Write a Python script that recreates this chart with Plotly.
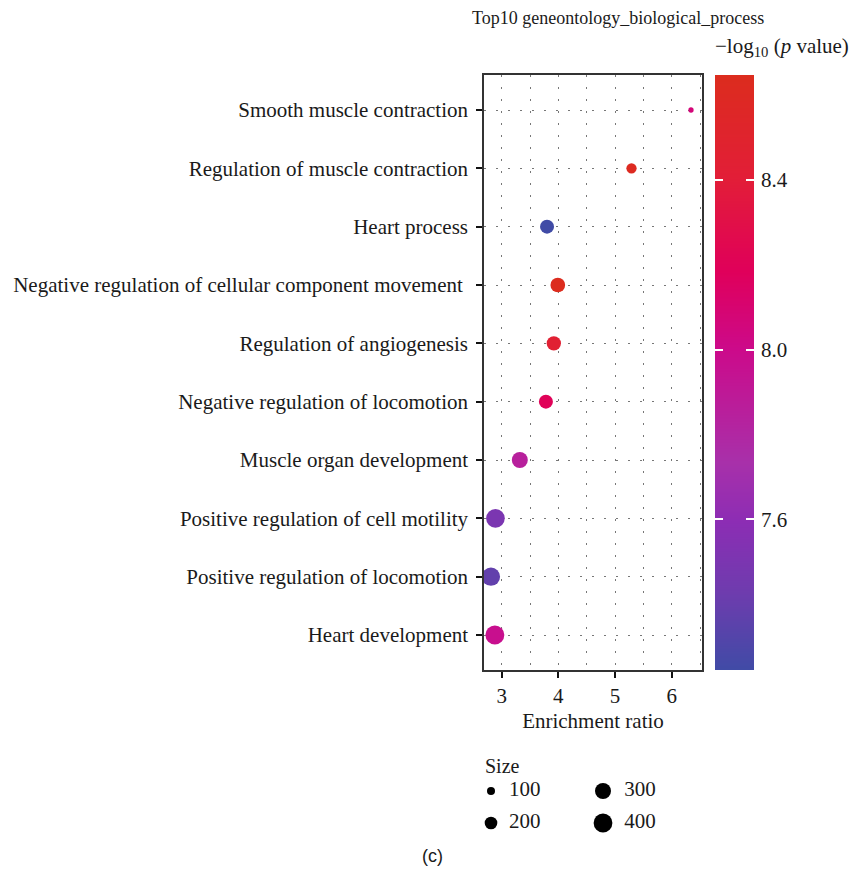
import numpy as np
import plotly.graph_objects as go

# Top 10 GO biological-process terms
terms = [
    "Heart development",
    "Positive regulation of locomotion",
    "Positive regulation of cell motility",
    "Muscle organ development",
    "Negative regulation of locomotion",
    "Regulation of angiogenesis",
    "Negative regulation of cellular component movement ",
    "Heart process",
    "Regulation of muscle contraction",
    "Smooth muscle contraction",
]
enrichment_ratio = [2.88, 2.81, 2.89, 3.32, 3.78, 3.92, 3.99, 3.80, 5.29, 6.34]
neg_log10_p = [7.97, 7.38, 7.50, 7.85, 8.20, 8.45, 8.647, 7.245, 8.62, 8.07]
gene_count = [405, 382, 397, 299, 237, 246, 258, 237, 143, 62]

size_legend_values = [100, 200, 300, 400]
colorbar_ticks = [7.6, 8.0, 8.4]

W, H = 855, 877
FONT = "Liberation Serif"
TXT = "#1a1a1a"
FS = 21


def diameter(n):
    return 0.98 * max(n - 33, 0) ** 0.5


colorscale = [
    [0.00, "#404ba6"],
    [0.13, "#6e3cae"],
    [0.25, "#8c2db4"],
    [0.35, "#a830aa"],
    [0.54, "#cc0a8a"],
    [0.67, "#e0005a"],
    [0.83, "#e21e37"],
    [1.00, "#dc2c1e"],
]

# plot area in pixels
px_l, px_r, px_t, px_b = 484, 702, 75, 670
# colour bar in pixels
cb_l, cb_w = 715, 39

cmin, cmax = min(neg_log10_p), max(neg_log10_p)

fig = go.Figure()

fig.add_trace(go.Scatter(
    x=enrichment_ratio,
    y=terms,
    mode="markers",
    cliponaxis=False,
    marker=dict(
        size=[diameter(n) for n in gene_count],
        sizemode="diameter",
        color=neg_log10_p,
        colorscale=colorscale,
        cmin=cmin,
        cmax=cmax,
        line=dict(width=0),
        opacity=1,
        showscale=False,
    ),
    showlegend=False,
    xaxis="x", yaxis="y",
))

# colour bar: a smooth gradient strip on its own axes
levels = np.linspace(cmin, cmax, 200)
fig.add_trace(go.Heatmap(
    x=[0, 1], y=levels, z=[[v, v] for v in levels],
    colorscale=colorscale, zmin=cmin, zmax=cmax, zsmooth="best",
    showscale=False, hoverinfo="skip", xaxis="x3", yaxis="y3",
))

# size key drawn on its own small axes (one column unit = 112 px)
cols = [i // 2 for i in range(len(size_legend_values))]
rows = [i % 2 for i in range(len(size_legend_values))]
key_x0, key_unit, key_x1 = 491, 112, 680
fig.add_trace(go.Scatter(
    x=cols, y=rows, mode="markers", cliponaxis=False,
    marker=dict(size=[diameter(v) for v in size_legend_values],
                sizemode="diameter", color="#000000", opacity=1,
                line=dict(width=0)),
    showlegend=False, hoverinfo="skip", xaxis="x2", yaxis="y2",
))
fig.add_trace(go.Scatter(
    x=[c * 1.03 + 0.16 for c in cols], y=rows, mode="text",
    cliponaxis=False,
    text=[str(v) for v in size_legend_values], textposition="middle right",
    textfont=dict(family=FONT, size=FS, color=TXT),
    showlegend=False, hoverinfo="skip", xaxis="x2", yaxis="y2",
))

dot = "2px,10px"
fig.update_layout(
    width=W, height=H,
    margin=dict(l=0, r=0, t=0, b=0),
    paper_bgcolor="white", plot_bgcolor="white",
    font=dict(family=FONT, color=TXT),
    xaxis=dict(
        domain=[px_l / W, px_r / W],
        range=[2.688, 6.534],
        tickmode="linear", tick0=3, dtick=1,
        ticks="outside", ticklen=6, tickwidth=2, tickcolor="#111",
        tickfont=dict(family=FONT, size=FS, color=TXT),
        showgrid=True, gridcolor="#777", gridwidth=1.2, griddash=dot,
        minor=dict(dtick=0.5, tick0=3, showgrid=True, gridcolor="#777",
                   gridwidth=1.2, griddash=dot, ticks=""),
        showline=True, linecolor="#333", linewidth=1.5, mirror=True,
        zeroline=False, automargin=False,
        title=dict(text="Enrichment ratio", standoff=6,
                   font=dict(family=FONT, size=FS, color=TXT)),
    ),
    yaxis=dict(
        domain=[1 - px_b / H, 1 - px_t / H],
        type="category", categoryorder="array", categoryarray=terms,
        range=[-0.6, 9.6],
        ticks="outside", ticklen=6, tickwidth=2, tickcolor="#111",
        ticklabelstandoff=4,
        tickfont=dict(family=FONT, size=FS, color=TXT),
        showgrid=True, gridcolor="#777", gridwidth=1.2, griddash=dot,
        showline=True, linecolor="#333", linewidth=1.5, mirror=True,
        zeroline=False, automargin=False,
    ),
    xaxis2=dict(domain=[key_x0 / W, key_x1 / W],
                range=[0, (key_x1 - key_x0) / key_unit],
                visible=False, fixedrange=True),
    yaxis2=dict(domain=[1 - 823 / H, 1 - 791 / H], range=[1, 0],
                visible=False, fixedrange=True),
    xaxis3=dict(domain=[cb_l / W, (cb_l + cb_w) / W], range=[0, 1],
                visible=False, fixedrange=True, anchor="y3"),
    yaxis3=dict(
        domain=[1 - px_b / H, 1 - px_t / H], range=[cmin, cmax],
        anchor="x3", side="right", fixedrange=True,
        tickvals=colorbar_ticks,
        ticktext=[f"{v:.1f}" for v in colorbar_ticks],
        ticks="inside", ticklen=8, tickwidth=2, tickcolor="white",
        mirror="ticks", showline=False, showgrid=False, zeroline=False,
        ticklabelstandoff=6,
        tickfont=dict(family=FONT, size=FS, color=TXT),
        automargin=False,
    ),
    annotations=[
        dict(text="Top10 geneontology_biological_process", x=618 / W,
             y=1 - 18 / H, xref="paper", yref="paper", xanchor="center",
             yanchor="middle", showarrow=False,
             font=dict(family=FONT, size=18, color=TXT)),
        dict(text="\u2212log<sub>10</sub> (<i>p</i> value)", x=713 / W,
             y=1 - 47 / H, xref="paper", yref="paper", xanchor="left",
             yanchor="middle", showarrow=False,
             font=dict(family=FONT, size=FS, color=TXT)),
        dict(text="Size", x=483 / W, y=1 - 766 / H, xref="paper",
             yref="paper", xanchor="left", yanchor="middle", showarrow=False,
             font=dict(family=FONT, size=20, color=TXT)),
        dict(text="(c)", x=432 / W, y=1 - 856 / H, xref="paper",
             yref="paper", xanchor="center", yanchor="middle",
             showarrow=False,
             font=dict(family="Liberation Sans", size=18, color=TXT)),
    ],
)

fig.write_html("out.html")
